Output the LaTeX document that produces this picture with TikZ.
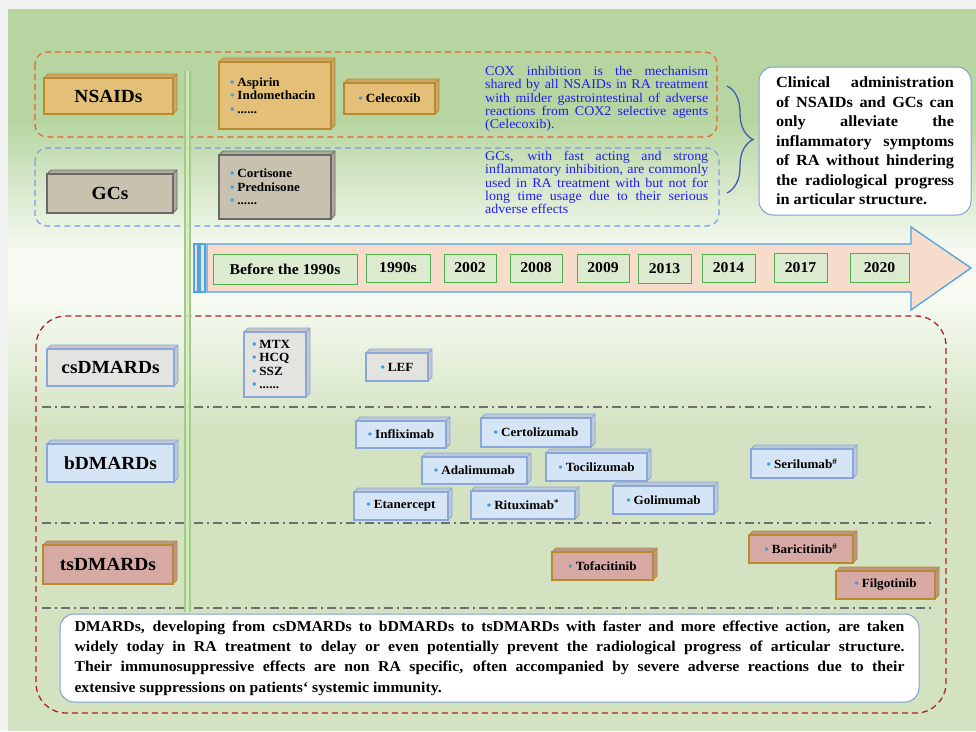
\documentclass[tikz,border=0pt]{standalone}
\usepackage{fontspec}
\setmainfont{Liberation Serif}[FakeStretch=1.05]
\usetikzlibrary{decorations.pathreplacing}
\definecolor{bgtop}{RGB}{183,213,161}
\definecolor{bgwhite}{RGB}{246,250,242}
\definecolor{bglow}{RGB}{211,227,193}
\definecolor{tanfill}{RGB}{228,191,120}
\definecolor{tanedge}{RGB}{185,138,46}
\definecolor{gcfill}{RGB}{201,193,176}
\definecolor{gcedge}{RGB}{105,105,105}
\definecolor{csfill}{RGB}{227,227,223}
\definecolor{bluedge}{RGB}{138,166,218}
\definecolor{bfill}{RGB}{214,229,245}
\definecolor{pinkfill}{RGB}{214,169,164}
\definecolor{yrfill}{RGB}{220,234,208}
\definecolor{yredge}{RGB}{76,174,76}
\definecolor{tlfill}{RGB}{247,220,203}
\definecolor{tledge}{RGB}{78,163,227}
\definecolor{bulc}{RGB}{59,158,224}
\definecolor{cxblue}{RGB}{30,30,240}
\definecolor{orgdash}{RGB}{232,98,42}
\definecolor{bludash}{RGB}{123,156,224}
\definecolor{reddash}{RGB}{178,34,34}
\definecolor{ddgrey}{RGB}{110,110,110}
\definecolor{bracec}{RGB}{63,95,181}
\definecolor{vline}{RGB}{160,205,130}
\definecolor{vfill}{RGB}{214,234,198}
\definecolor{noteedge}{RGB}{127,159,214}
\newcommand\catf{\fontsize{18.5}{20}\selectfont\bfseries}
\newcommand\drugf{\fontsize{12.5}{13.3}\selectfont\bfseries}
\newcommand\yearf{\fontsize{15}{18}\selectfont\bfseries}
\newcommand\bul{{\color{bulc}\fontsize{12}{12}\selectfont\textbullet}\hspace{3pt}}
% #1 kind, #2 extra options, #3-#6 corners of the front face, #7 name, #8 text
\newcommand\mkbox[8]{%
  \filldraw[#1face] (#3,#4) -- ++(4,-4) -- ({#5+4},{#4-4}) -- ({#5+4},{#6-4}) -- (#5,#6) -- cycle;
  \draw[#1face] (#5,#4) -- ++(4,-4);
  \node[#1box, #2, minimum width={#5-#3}, minimum height={#6-#4}] (#7) at ({(#3+#5)/2},{(#4+#6)/2}) {#8};}
\tikzset{
  x=1pt, y=-1pt,
  tanbox/.style={draw=tanedge, fill=tanfill, line width=1.1pt, inner sep=0pt},
  tanface/.style={draw=tanedge, fill=tanfill!88!black, line width=0.9pt, line join=round},
  gcbox/.style={draw=gcedge, fill=gcfill, line width=1.1pt, inner sep=0pt},
  gcface/.style={draw=gcedge, fill=gcfill!88!black, line width=0.9pt, line join=round},
  csbox/.style={draw=bluedge, fill=csfill, line width=1.1pt, inner sep=0pt},
  csface/.style={draw=bluedge, fill=csfill!88!black, line width=0.9pt, line join=round},
  bbox/.style={draw=bluedge, fill=bfill, line width=1.1pt, inner sep=0pt},
  bface/.style={draw=bluedge, fill=bfill!88!black, line width=0.9pt, line join=round},
  pinkbox/.style={draw=tanedge, fill=pinkfill, line width=1.1pt, inner sep=0pt},
  pinkface/.style={draw=tanedge, fill=pinkfill!88!black, line width=0.9pt, line join=round},
  cat/.style={font=\catf},
  drug/.style={font=\drugf},
  yearbox/.style={draw=yredge, fill=yrfill, line width=1pt, inner sep=0pt, font=\yearf},
  note/.style={draw=noteedge, fill=white, line width=1pt, rounded corners=14pt, inner sep=0pt, align=justify},
  bluetext/.style={text=cxblue, font=\fontsize{13.3}{13.3}\selectfont, inner sep=0pt, align=justify, text width=223, anchor=north west},
  dashdot/.style={draw=ddgrey, line width=2pt, dash pattern=on 9pt off 4pt on 2pt off 4pt},
}
\begin{document}
\begin{tikzpicture}
\useasboundingbox (0,0) rectangle (976,731);
% background
\fill[gray!10] (0,0) rectangle (976,731);
\fill[bgtop] (8,9) rectangle (976,120);
\shade[top color=bgtop, bottom color=bgwhite] (8,120) rectangle (976,250);
\fill[bgwhite] (8,250) rectangle (976,300);
\shade[top color=bgwhite, bottom color=bglow] (8,300) rectangle (976,430);
\fill[bglow] (8,430) rectangle (976,731);

% dashed group frames
\draw[orgdash, line width=1.2pt, dash pattern=on 6pt off 4pt, rounded corners=12pt] (35,52) rectangle (717,137);
\draw[bludash, line width=1.2pt, dash pattern=on 6pt off 4pt, rounded corners=12pt] (35,148) rectangle (719,226);
\draw[reddash, line width=1.3pt, dash pattern=on 6pt off 4pt, rounded corners=30pt] (36,316) rectangle (946,713);

% separators
\draw[dashdot] (42,407) -- (935,407);
\draw[dashdot] (42,523) -- (935,523);
\draw[dashdot] (42,608) -- (935,608);

% green vertical double line
\fill[vfill, opacity=0.8] (185,71) rectangle (190,612);
\draw[vline, line width=1.2pt] (185,71) -- (185,612) (190,71) -- (190,612);

% timeline arrow
\filldraw[fill=tlfill, draw=tledge, line width=1.3pt] (194,244) rectangle (198,292);
\filldraw[fill=tlfill, draw=tledge, line width=1.3pt] (200,244) rectangle (205,292);
\filldraw[fill=tlfill, draw=tledge, line width=1.3pt, line join=miter]
  (207,244) -- (911,244) -- (911,227) -- (971,268) -- (911,310) -- (911,292) -- (207,292) -- cycle;

% year labels
\node[yearbox, minimum width=144, minimum height=30] (b90) at (285,269) {Before the 1990s};
\node[yearbox, minimum width=64, minimum height=28] (y1990) at (398,268) {1990s};
\node[yearbox, minimum width=52, minimum height=28] (y2002) at (470,268) {2002};
\node[yearbox, minimum width=52, minimum height=28] (y2008) at (536,268) {2008};
\node[yearbox, minimum width=52, minimum height=28] (y2009) at (603,268) {2009};
\node[yearbox, minimum width=53, minimum height=29] (y2013) at (664.5,268.5) {2013};
\node[yearbox, minimum width=53, minimum height=28] (y2014) at (728.5,268) {2014};
\node[yearbox, minimum width=53, minimum height=29] (y2017) at (800.5,267.5) {2017};
\node[yearbox, minimum width=59, minimum height=29] (y2020) at (879.5,267.5) {2020};

% NSAIDs and GCs
\mkbox{tan}{cat}{44}{78}{173}{114}{nsaid}{NSAIDs}
\mkbox{tan}{drug,text width=90,align=left}{219}{62}{331}{129}{aspirin}{\bul Aspirin\\\bul Indomethacin\\\bul ......}
\mkbox{tan}{drug}{344}{83}{435}{114}{celeco}{\bul Celecoxib}
\mkbox{gc}{cat}{47}{174}{173}{213}{gcs}{GCs}
\mkbox{gc}{drug,text width=90,align=left}{219}{155}{331}{219}{cortis}{\bul Cortisone\\\bul Prednisone\\\bul ......}

\node[bluetext] (cox) at (485,66) {COX inhibition is the mechanism\linebreak shared by all NSAIDs in RA treatment\linebreak with milder gastrointestinal of adverse\linebreak reactions from COX2 selective agents\linebreak (Celecoxib).};
\node[bluetext] (gctext) at (485,151) {GCs, with fast acting and strong\linebreak inflammatory inhibition, are commonly\linebreak used in RA treatment with but not for\linebreak long time usage due to their serious\linebreak adverse effects};

% brace and clinical note
\coordinate (brt) at (727,86);
\coordinate (brb) at (727,193);
\draw[bracec, line width=1.3pt, decorate, decoration={brace, amplitude=26pt}] (brt) -- (brb);
\node[note, minimum width=212, minimum height=148, text width=178,
  font=\fontsize{15.5}{19.5}\selectfont\bfseries] (clin) at (865,141)
  {Clinical administration\linebreak of NSAIDs and GCs can\linebreak only alleviate the\linebreak inflammatory symptoms\linebreak of RA without hindering\linebreak the radiological progress\linebreak in articular structure.};

% DMARDs
\mkbox{cs}{cat}{47}{349}{174}{386}{csd}{csDMARDs}
\mkbox{cs}{drug,text width=46,align=left}{244}{332}{306}{397}{mtx}{\bul MTX\\\bul HCQ\\\bul SSZ\\\bul ......}
\mkbox{cs}{drug}{366}{353}{428}{381}{lef}{\bul LEF}

\mkbox{b}{cat}{47}{444}{174}{482}{bd}{bDMARDs}
\mkbox{b}{drug}{356}{421}{446}{448}{infl}{\bul Infliximab}
\mkbox{b}{drug}{481}{418}{591}{447}{cert}{\bul Certolizumab}
\mkbox{b}{drug}{422}{457}{527}{484}{adal}{\bul Adalimumab}
\mkbox{b}{drug}{546}{453}{647}{481}{toci}{\bul Tocilizumab}
\mkbox{b}{drug}{751}{449}{853}{478}{seri}{\bul Serilumab\textsuperscript{\#}}
\mkbox{b}{drug}{354}{492}{448}{520}{etan}{\bul Etanercept}
\mkbox{b}{drug}{471}{491}{575}{519}{ritu}{\bul Rituximab\textsuperscript{*}}
\mkbox{b}{drug}{613}{486}{714}{514}{goli}{\bul Golimumab}

\mkbox{pink}{cat}{43}{545}{173}{584}{tsd}{tsDMARDs}
\mkbox{pink}{drug}{552}{552}{653}{580}{tofa}{\bul Tofacitinib}
\mkbox{pink}{drug}{749}{535}{853}{563}{bari}{\bul Baricitinib\textsuperscript{\#}}
\mkbox{pink}{drug}{836}{571}{935}{599}{filg}{\bul Filgotinib}

\node[note, minimum width=859, minimum height=88, text width=830,
  font=\fontsize{15}{20.4}\selectfont\bfseries] (dmard) at (489.5,658)
  {DMARDs, developing from csDMARDs to bDMARDs to tsDMARDs with faster and more effective action, are taken\linebreak widely today in RA treatment to delay or even potentially prevent the radiological progress of articular structure.\linebreak Their immunosuppressive effects are non RA specific, often accompanied by severe adverse reactions due to their\linebreak extensive suppressions on patients‘ systemic immunity.};
\end{tikzpicture}
\end{document}
